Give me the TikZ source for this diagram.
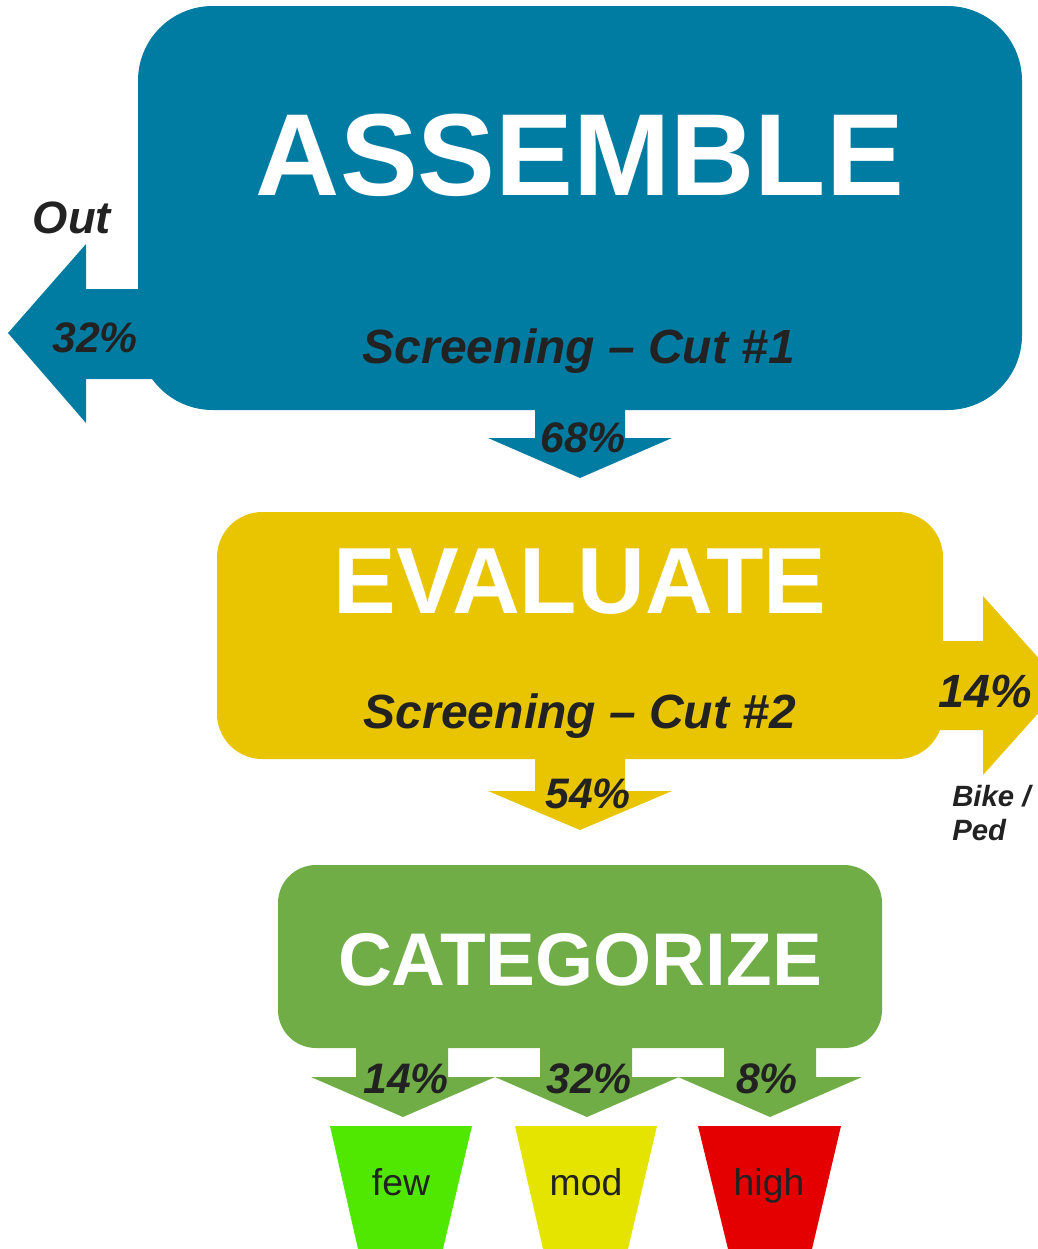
\documentclass[tikz,border=0pt]{standalone}
\usepackage{fontspec}
\setmainfont{Liberation Sans}
\definecolor{cblue}{RGB}{0,124,163}
\definecolor{cyel}{RGB}{232,197,0}
\definecolor{cgreen}{RGB}{112,173,71}
\definecolor{tgreen}{RGB}{80,232,0}
\definecolor{tyel}{RGB}{228,228,0}
\definecolor{tred}{RGB}{228,0,0}
\definecolor{dark}{RGB}{34,34,34}
\begin{document}
\begin{tikzpicture}[x=0.75pt,y=-0.75pt,
  stagebox/.style={rectangle,inner sep=0pt,draw=none},
  title/.style={text=white,font=\bfseries,anchor=base,inner sep=0pt},
  sub/.style={text=dark,font=\bfseries\itshape\fontsize{36}{40}\selectfont,anchor=base,inner sep=0pt},
  pct/.style={text=dark,font=\bfseries\itshape\fontsize{32}{36}\selectfont,anchor=base,inner sep=0pt},
  cat/.style={text=dark,font=\fontsize{28}{32}\selectfont,anchor=base,inner sep=0pt}]
\useasboundingbox (0,0) rectangle (1038,1249);
\clip (0,0) rectangle (1038,1249);
% ---- ASSEMBLE ----
\fill[cblue] (86,289) -- (86,244) -- (8,333) -- (86,423) -- (86,379) -- (200,379) -- (200,289) -- cycle;
\fill[cblue] (535,400) -- (535,438) -- (488,438) -- (580,478) -- (672,438) -- (625,438) -- (625,400) -- cycle;
\node[stagebox,fill=cblue,rounded corners=56pt,minimum width=663pt,minimum height=303pt] (assemble) at (580,208) {};
\node[title,font=\bfseries\fontsize{87.5}{90}\selectfont] (assembleT) at (580,195) {ASSEMBLE};
\node[sub] (cut1) at (579,363) {Screening – Cut \#1};
\node[pct,font=\bfseries\itshape\fontsize{34}{38}\selectfont] (out) at (72,233) {Out};
\node[pct] (p32a) at (95,352) {32\%};
\node[pct] (p68) at (583,452) {68\%};
% ---- EVALUATE ----
\fill[cyel] (900,641) -- (983,641) -- (983,596) -- (1063,685.5) -- (983,775) -- (983,730) -- (900,730) -- cycle;
\fill[cyel] (535,740) -- (535,791) -- (488,791) -- (580,830) -- (672,791) -- (625,791) -- (625,740) -- cycle;
\node[stagebox,fill=cyel,rounded corners=34pt,minimum width=544.5pt,minimum height=185.25pt] (evaluate) at (580,635.5) {};
\node[title,font=\bfseries\fontsize{70.5}{74}\selectfont] (evaluateT) at (580,613) {EVALUATE};
\node[sub] (cut2) at (580,728) {Screening – Cut \#2};
\node[pct,font=\bfseries\itshape\fontsize{35}{38}\selectfont] (p14r) at (985,707) {14\%};
\node[text=dark,font=\bfseries\itshape\fontsize{22}{26}\selectfont,anchor=base west,inner sep=0pt] (bike) at (952,806) {Bike /};
\node[text=dark,font=\bfseries\itshape\fontsize{22}{26}\selectfont,anchor=base west,inner sep=0pt] (ped) at (952,840) {Ped};
\node[pct] (p54) at (588,808) {54\%};
% ---- CATEGORIZE ----
\foreach \cx/\l/\r in {403/356/448, 587/540/632, 770/724/816}{
  \fill[cgreen] (\l,1030) -- (\l,1077) -- (\cx-92,1077) -- (\cx,1117) -- (\cx+92,1077) -- (\r,1077) -- (\r,1030) -- cycle;
}
\node[stagebox,fill=cgreen,rounded corners=28.5pt,minimum width=453pt,minimum height=137.25pt] (categorize) at (580,956.5) {};
\node[title,font=\bfseries\fontsize{56}{60}\selectfont] (categorizeT) at (580,985) {CATEGORIZE};
\node[pct] (p14) at (406,1093) {14\%};
\node[pct] (p32) at (589,1093) {32\%};
\node[pct] (p8) at (767,1093) {8\%};
% ---- buckets ----
\fill[tgreen] (330,1126) -- (472,1126) -- (443,1249) -- (358,1249) -- cycle;
\fill[tyel] (515,1126) -- (657,1126) -- (628,1249) -- (543,1249) -- cycle;
\fill[tred] (698,1126) -- (841,1126) -- (812,1249) -- (728,1249) -- cycle;
\node[cat] (few) at (401,1195) {few};
\node[cat] (mod) at (586,1195) {mod};
\node[cat] (high) at (769,1195) {high};
\end{tikzpicture}
\end{document}
